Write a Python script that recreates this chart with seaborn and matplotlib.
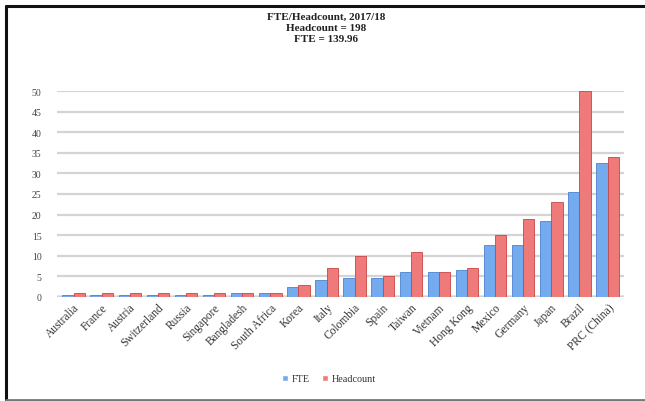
import matplotlib
matplotlib.use("Agg")
import matplotlib.pyplot as plt
import pandas as pd
import seaborn as sns
from matplotlib.lines import Line2D

countries = ["Australia", "France", "Austria", "Switzerland", "Russia", "Singapore",
             "Bangladesh", "South Africa", "Korea", "Italy", "Colombia", "Spain",
             "Taiwan", "Vietnam", "Hong Kong", "Mexico", "Germany", "Japan",
             "Brazil", "PRC (China)"]
fte = [0.5, 0.5, 0.5, 0.5, 0.5, 0.5, 1, 1, 2.5, 4, 4.5, 4.5,
       6, 6, 6.5, 12.5, 12.5, 18.5, 25.5, 32.5]
headcount = [1, 1, 1, 1, 1, 1, 1, 1, 3, 7, 10, 5,
             11, 6, 7, 15, 19, 23, 50, 34]
title_lines = ["FTE/Headcount, 2017/18", "Headcount = 198", "FTE = 139.96"]

df = pd.DataFrame({"country": countries * 2,
                   "value": fte + headcount,
                   "series": ["FTE"] * len(countries) + ["Headcount"] * len(countries)})

sns.set_style("white")
plt.rcParams["font.family"] = ["Liberation Serif", "DejaVu Serif"]

fig = plt.figure(figsize=(6.45, 4.02), dpi=100)
ax = fig.add_axes([0.088, 0.259, 0.88, 0.512])

palette = {"FTE": "#74aaee", "Headcount": "#ee7a7a"}
sns.barplot(data=df, x="country", y="value", hue="series", palette=palette,
            width=0.8, ax=ax, saturation=1, legend=True)
for bar, c in zip(ax.patches, ["#4a82d0"] * 20 + ["#c94545"] * 20):
    bar.set_edgecolor(c)
    bar.set_linewidth(0.6)

ax.set_ylim(0, 50)
ax.set_xlim(-0.6, 19.6)
ax.set_yticks(range(0, 51, 5))
ax.yaxis.grid(True, color="#d4d4d4", linewidth=1.6)
ax.set_axisbelow(True)
for s in ax.spines.values():
    s.set_visible(False)
ax.axhline(0, color="#9a9a9a", linewidth=2.5, zorder=0)
ax.tick_params(axis="y", labelsize=7, colors="#444444", length=0, pad=11)
ax.tick_params(axis="x", labelsize=8.3, colors="#333333", length=0, pad=3)
ax.set_xticks(range(len(countries)))
ax.set_xticklabels(countries, rotation=45, ha="right", rotation_mode="anchor")
ax.set_xlabel("")
ax.set_ylabel("")

ax.legend(loc="center", ncol=2, frameon=False, fontsize=7.3,
          handlelength=0.6, handleheight=0.6, columnspacing=1.2,
          handletextpad=0.4, labelcolor="#333333")
ax.get_legend().set_bbox_to_anchor((0.51, 0.055), transform=fig.transFigure)

for i, line in enumerate(title_lines):
    fig.text(0.505, 0.958 - i * 0.028, line, ha="center", va="center",
             fontsize=8, fontweight="bold", color="#222222")

# frame around the chart: dark top/left, grey bottom, open right
fig.add_artist(Line2D([5.5 / 645, 1], [1 - 6.5 / 402] * 2, transform=fig.transFigure,
                      color="#111111", linewidth=2.2))
fig.add_artist(Line2D([5.5 / 645] * 2, [1.5 / 402, 1 - 6.5 / 402], transform=fig.transFigure,
                      color="#111111", linewidth=2.2))
fig.add_artist(Line2D([5.5 / 645, 1], [1.5 / 402] * 2, transform=fig.transFigure,
                      color="#777777", linewidth=2))

fig.savefig("out.png", dpi=100)
